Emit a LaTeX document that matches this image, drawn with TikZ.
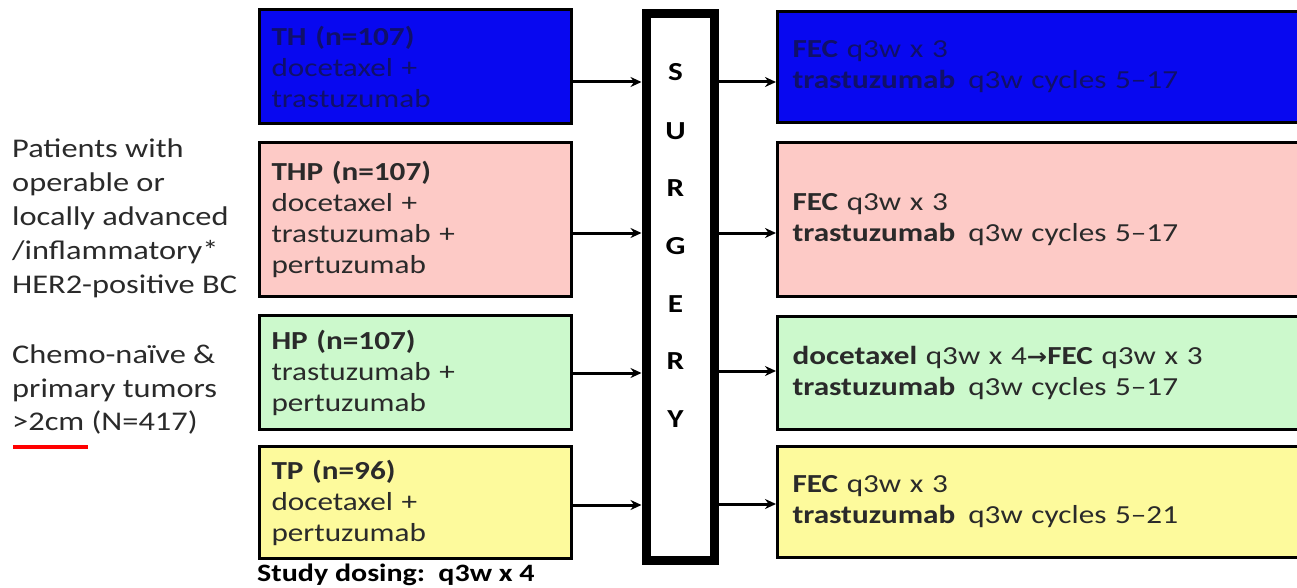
\documentclass[tikz,border=0pt]{standalone}
\usepackage{fontspec}
\setmainfont{Carlito}[FakeStretch=1.2]
\newfontfamily\djv{DejaVu Sans}[FakeStretch=1.1]
\usetikzlibrary{arrows.meta}
\definecolor{txt}{HTML}{2A2A2A}
\definecolor{bluebox}{HTML}{0808F0}
\definecolor{bluetxt}{HTML}{10106A}
\definecolor{pinkbox}{HTML}{FDCAC6}
\definecolor{greenbox}{HTML}{CCF9CC}
\definecolor{yellowbox}{HTML}{FDFA9C}
\tikzset{
  armbox/.style={draw=black, line width=3pt, minimum width=312pt, text width=288pt, align=left, inner sep=0pt, anchor=north west, font=\fontsize{26}{31}\selectfont, text=txt},
  resbox/.style={draw=black, line width=3pt, minimum width=530pt, text width=500pt, align=left, inner sep=0pt, anchor=north west, font=\fontsize{26}{31}\selectfont, text=txt},
  conn/.style={-{Stealth[length=11pt,width=10pt]}, line width=3pt},
  letter/.style={font=\fontsize{26}{26}\selectfont\bfseries, text=black},
}
\begin{document}
\begin{tikzpicture}[x=1pt,y=-1pt]
\useasboundingbox (0,0) rectangle (1297,588);
% left arm boxes
\node[armbox, fill=bluebox, text=bluetxt, minimum height=114pt] (a1) at (258,8) {\textbf{TH (n=107)}\\docetaxel +\\trastuzumab};
\node[armbox, fill=pinkbox, minimum height=154pt] (a2) at (258,141) {\textbf{THP (n=107)}\\docetaxel +\\trastuzumab +\\pertuzumab};
\node[armbox, fill=greenbox, minimum height=114pt] (a3) at (258,314) {\textbf{HP (n=107)}\\trastuzumab +\\pertuzumab};
\node[armbox, fill=yellowbox, minimum height=112pt] (a4) at (258,445) {\textbf{TP (n=96)}\\docetaxel +\\pertuzumab};
% surgery
\node[draw=black, line width=9pt, fill=white, minimum width=68pt, minimum height=546pt, anchor=north west, inner sep=0pt] (surg) at (641.5,9.5) {};
\foreach \l/\yy [count=\i] in {S/72,U/131,R/188,G/246,E/304,R/361,Y/419}
  \node[letter] (s\i) at (675.5,\yy) {\l};
% right boxes
\node[resbox, fill=bluebox, text=bluetxt, minimum height=111pt] (r1) at (776,10) {\textbf{FEC} q3w x 3\\\textbf{trastuzumab} \,q3w cycles 5--17};
\node[resbox, fill=pinkbox, minimum height=154pt] (r2) at (776,141) {\textbf{FEC} q3w x 3\\\textbf{trastuzumab} \,q3w cycles 5--17};
\node[resbox, fill=greenbox, minimum height=113pt] (r3) at (776,315) {\textbf{docetaxel} q3w x 4{\djv\bfseries\fontsize{22}{31}\selectfont →}\textbf{FEC} q3w x 3\\\textbf{trastuzumab} \,q3w cycles 5--17};
\node[resbox, fill=yellowbox, minimum height=111pt] (r4) at (776,445) {\textbf{FEC} q3w x 3\\\textbf{trastuzumab} \,q3w cycles 5--21};
% connectors
\draw[conn] (a1.east |- 0,82) -- (surg.west |- 0,82);
\draw[conn] (a2.east |- 0,233) -- (surg.west |- 0,233);
\draw[conn] (a3.east |- 0,373) -- (surg.west |- 0,373);
\draw[conn] (a4.east |- 0,505) -- (surg.west |- 0,505);
\draw[conn] (surg.east |- 0,82) -- (r1.west |- 0,82);
\draw[conn] (surg.east |- 0,233) -- (r2.west |- 0,233);
\draw[conn] (surg.east |- 0,371) -- (r3.west |- 0,371);
\draw[conn] (surg.east |- 0,504) -- (r4.west |- 0,504);
% left description
\node[anchor=north west, align=left, inner sep=0pt, text=txt, font=\fontsize{27}{34}\selectfont] (desc) at (12,139) {Patients with\\operable or\\locally advanced\\/inflammatory*\\HER2-positive BC};
\node[anchor=north west, align=left, inner sep=0pt, text=txt, font=\fontsize{27}{33.5}\selectfont] (crit) at (12,345) {Chemo-naïve \&\\primary tumors\\>2cm (N=417)};
\draw[red, line width=4pt] (13,447) -- (88,447);
\node[anchor=north west, inner sep=0pt, text=black, font=\fontsize{25}{25}\selectfont\bfseries] (dose) at (257,564) {Study dosing: \,q3w x 4};
\end{tikzpicture}
\end{document}
